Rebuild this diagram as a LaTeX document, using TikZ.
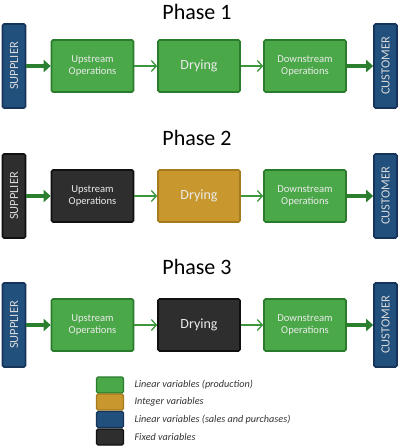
\documentclass[tikz,border=0pt]{standalone}
\usepackage{fontspec}
\setmainfont{Carlito}
\usetikzlibrary{arrows.meta}

\definecolor{linF}{RGB}{74,168,72}
\definecolor{linD}{RGB}{42,124,44}
\definecolor{intF}{RGB}{200,152,46}
\definecolor{intD}{RGB}{166,122,30}
\definecolor{salF}{RGB}{33,80,124}
\definecolor{salD}{RGB}{22,52,90}
\definecolor{fixF}{RGB}{46,46,46}
\definecolor{fixD}{RGB}{16,16,16}
\definecolor{flowC}{RGB}{60,150,60}

\tikzset{
  kind/.style={fill=#1F, draw=#1D},
  unit/.style={line width=1.6, rounded corners=1.5, minimum width=82, minimum height=52,
    text=white!92!black, align=center, font=\fontsize{10.6}{11.5}\selectfont},
  side/.style={line width=1.6, rounded corners=1.5, rotate=90, minimum width=84, minimum height=23,
    text=white!85!black, font=\fontsize{12.5}{13}\selectfont},
  feed/.style={draw=linD!90!flowC, line width=4, -{Triangle[length=7,width=12]}},
  flow/.style={draw=flowC, line width=1.3, -{Straight Barb[length=5,width=11]}},
  swatch/.style={line width=1.4, rounded corners=1.5, minimum width=27, minimum height=16},
  legtext/.style={anchor=west, text=black!80, font=\fontsize{10.2}{11}\itshape}
}

\begin{document}
\begin{tikzpicture}[x=1pt,y=-1pt]
  \useasboundingbox (0,0) rectangle (402,448);
  % one row for each phase
  \foreach \i/\yc/\ty/\sup/\up/\dry in {1/66/12/sal/lin/lin,2/196/138/fix/fix/int,3/325/267/sal/lin/fix} {
    \node (title\i) at (197,\ty) {\fontsize{22}{24}\selectfont Phase \i};
    \node[side, kind=\sup] (sup\i) at (14,\yc) {SUPPLIER};
    \node[unit, kind=\up] (up\i) at (92.5,\yc) {Upstream\\Operations};
    \node[unit, kind=\dry, font=\fontsize{14}{15}\selectfont] (dry\i) at (199,\yc) {Drying};
    \node[unit, kind=lin] (down\i) at (305,\yc) {Downstream\\Operations};
    \node[side, kind=sal] (cust\i) at (385.5,\yc) {CUSTOMER};
    \draw[feed] (sup\i) -- (up\i);
    \draw[flow] (up\i) -- (dry\i);
    \draw[flow] (dry\i) -- (down\i);
    \draw[feed] (down\i) -- (cust\i);
  }
  % legend
  \foreach \k/\yl/\txt in {lin/385/Linear variables (production),int/402/Integer variables,sal/419.5/Linear variables (sales and purchases),fix/437/Fixed variables} {
    \node[swatch, kind=\k] (sw\k) at (110,\yl) {};
    \node[legtext] (lab\k) at (131,\yl) {\txt};
  }
\end{tikzpicture}
\end{document}
